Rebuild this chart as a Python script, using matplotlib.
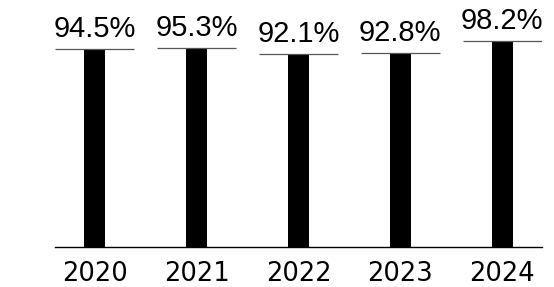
import matplotlib
matplotlib.use("Agg")
import matplotlib.pyplot as plt
import numpy as np

# valores
years = ["2020", "2021", "2022", "2023", "2024"]
rates = [94.5, 95.3, 92.1, 92.8, 98.2]
labels = ["94.5%", "95.3%", "92.1%", "92.8%", "98.2%"]

x = np.arange(len(years))

fig = plt.figure(figsize=(5.54, 2.87), dpi=100)
ax = fig.add_axes([0.0993, 0.141, 0.879, 0.7275])

ax.bar(x, rates, width=0.21, color="black")
ax.hlines(rates, x - 0.39, x + 0.39, color="#555555", linewidth=0.9)

for xi, val, lab in zip(x, rates, labels):
    ax.annotate(lab, (xi, val), xytext=(0, 12), textcoords="offset pixels",
                ha="center", va="baseline", fontsize=21,
                family=["Liberation Sans", "DejaVu Sans"], color="black")

ax.set_xlim(-0.39, 4.39)
ax.set_ylim(0, 100)
ax.set_xticks(x)
ax.set_xticklabels(years, fontsize=18.5, family="DejaVu Sans")
ax.tick_params(axis="x", length=0, pad=10.5)
ax.set_yticks([])

for side in ["top", "right", "left"]:
    ax.spines[side].set_visible(False)
ax.spines["bottom"].set_linewidth(1.0)
ax.spines["bottom"].set_color("black")

fig.savefig("out.png", dpi=100)
